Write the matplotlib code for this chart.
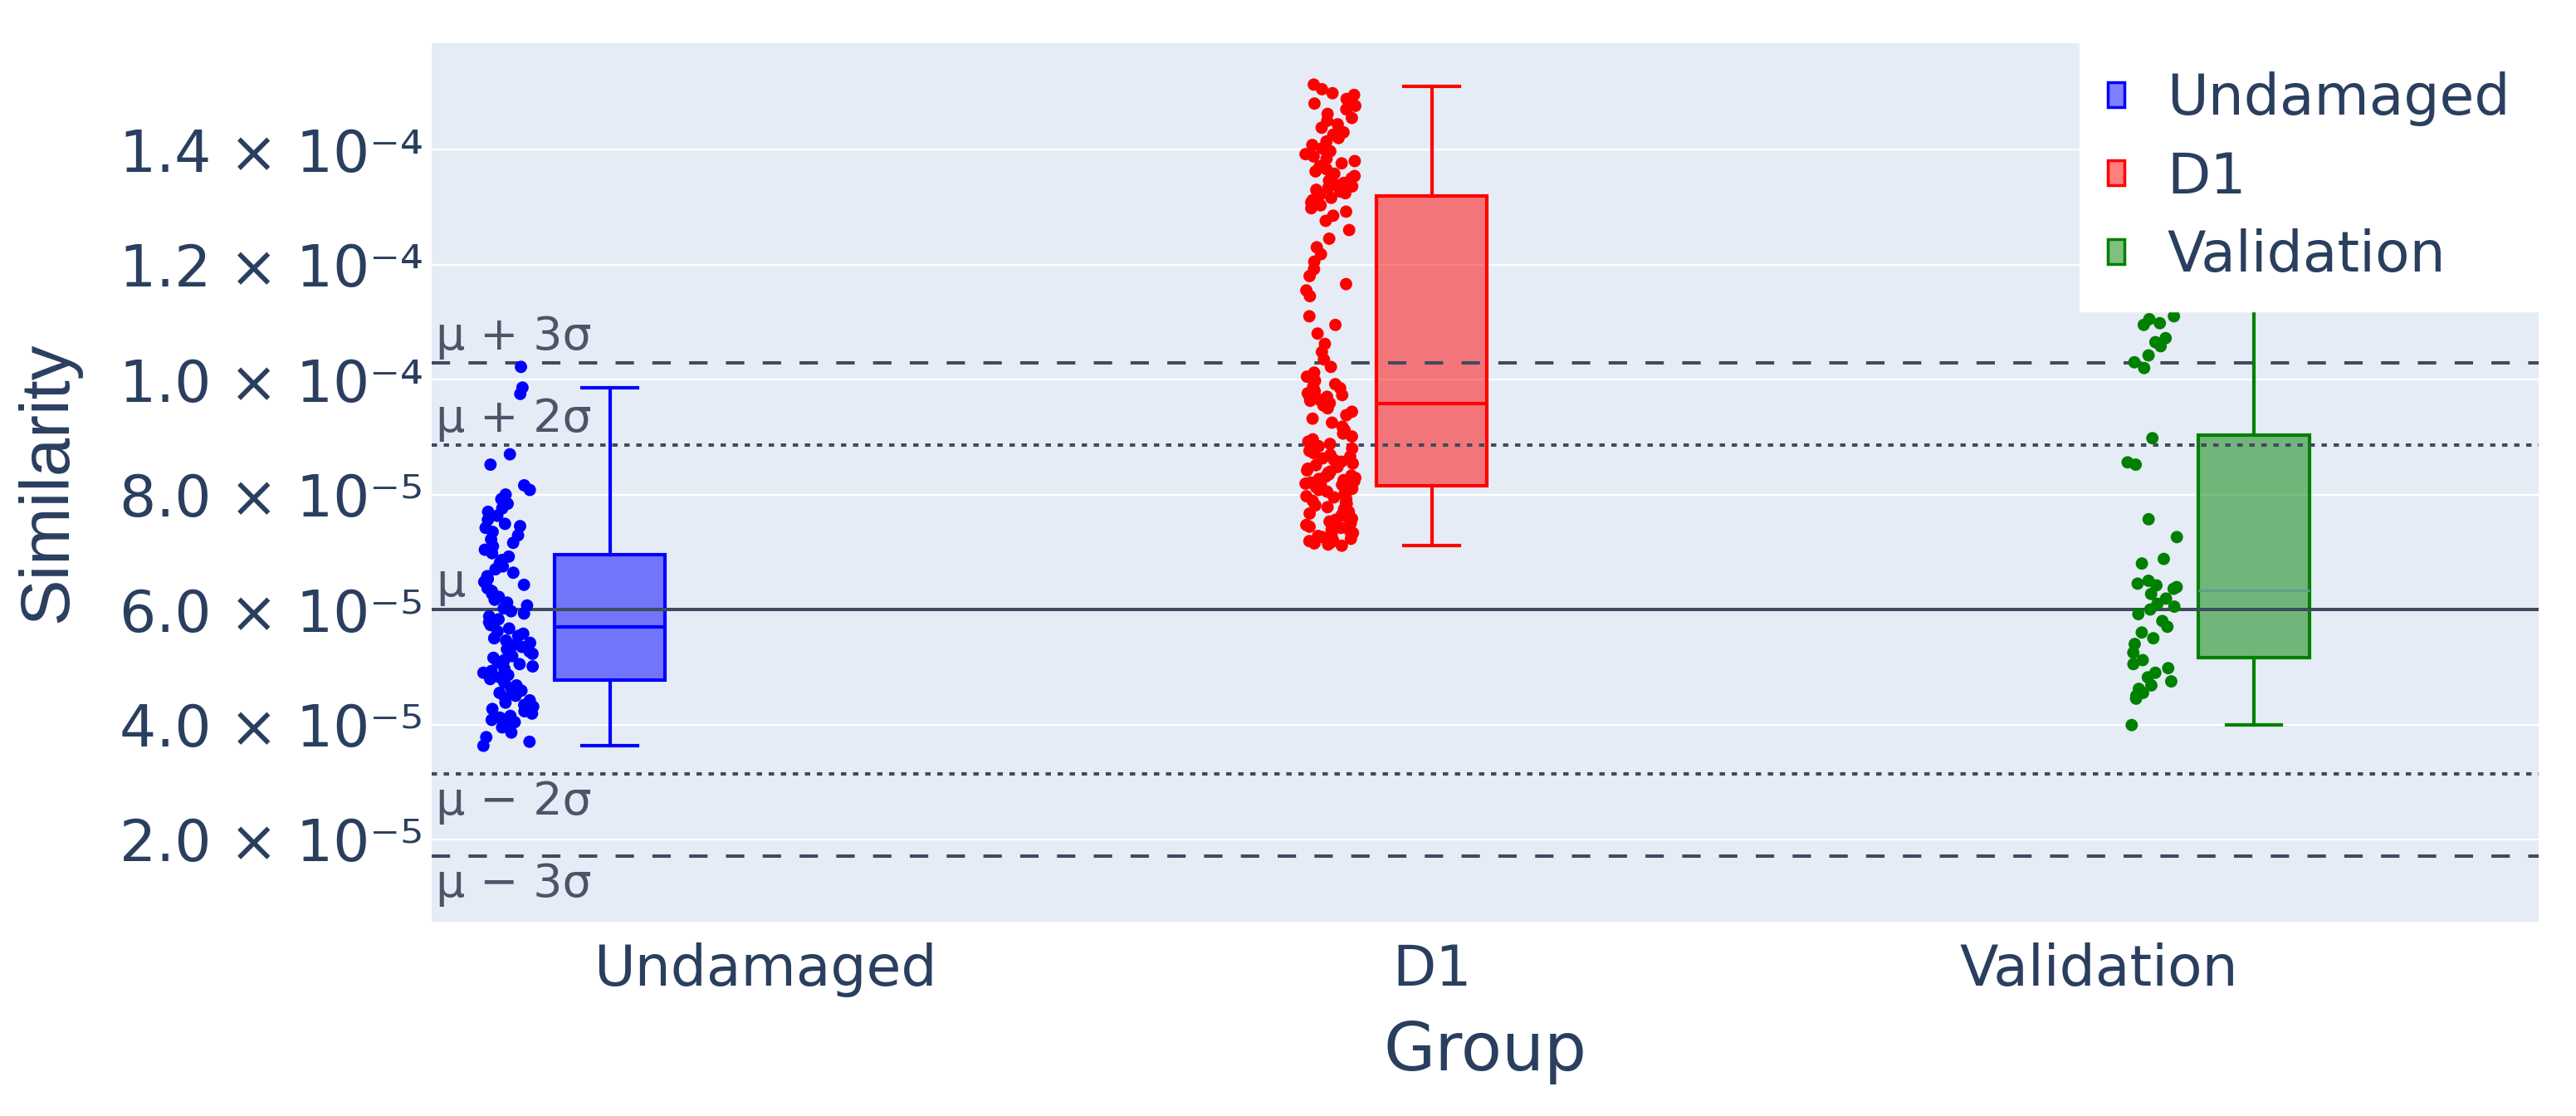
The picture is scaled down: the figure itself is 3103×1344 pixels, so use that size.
import numpy as np
import matplotlib.pyplot as plt
from matplotlib.patches import Patch

plt.rcParams['font.family'] = ['DejaVu Sans']

groups = ['Undamaged', 'D1', 'Validation']
colors = ['#0000ff', '#ff0000', '#008000']
box_offsets = [-0.233, 0.0, 0.233]

# similarity samples (units of 1e-5)
undamaged = [3.63, 3.70, 3.78, 3.86, 3.95, 3.99, 4.04, 4.08, 4.12, 4.15, 4.19, 4.23,
             4.27, 4.31, 4.34, 4.38, 4.42, 4.46, 4.50, 4.55, 4.59, 4.63, 4.68, 4.73,
             4.79, 4.82, 4.86, 4.90, 4.93, 4.97, 5.01, 5.05, 5.08, 5.12, 5.16, 5.19,
             5.23, 5.27, 5.31, 5.35, 5.38, 5.42, 5.46, 5.50, 5.54, 5.58, 5.62, 5.67,
             5.73, 5.78, 5.83, 5.88, 5.93, 5.97, 6.02, 6.07, 6.12, 6.17, 6.22, 6.27,
             6.32, 6.37, 6.43, 6.48, 6.53, 6.58, 6.64, 6.70, 6.75, 6.81, 6.86, 6.92,
             6.98, 7.04, 7.10, 7.16, 7.22, 7.29, 7.35, 7.42, 7.45, 7.49, 7.56, 7.63,
             7.70, 7.76, 7.84, 7.92, 8.00, 8.08, 8.16, 8.52, 8.70, 9.75, 9.86, 10.22]
d1 = [15.13, 15.05, 14.98, 14.95, 14.88, 14.80, 14.76, 14.70, 14.62, 14.55, 14.50, 14.44,
      14.38, 14.30, 14.26, 14.20, 14.14, 14.08, 14.02, 13.97, 13.92, 13.88, 13.84, 13.80,
      13.76, 13.71, 13.66, 13.62, 13.58, 13.54, 13.50, 13.46, 13.42, 13.39, 13.36, 13.33,
      13.30, 13.27, 13.24, 13.21,
      13.16, 13.12, 13.08, 13.03, 12.98, 12.92, 12.85, 12.76, 12.60, 12.45, 12.30, 12.18,
      12.05, 11.92, 11.80, 11.66, 11.55, 11.45, 11.10, 10.95, 10.80, 10.62, 10.48, 10.35,
      10.22, 10.12, 10.05, 9.98, 9.92, 9.88, 9.85, 9.80, 9.76, 9.73, 9.70, 9.68,
      9.65, 9.63, 9.61, 9.59,
      9.55, 9.50, 9.44, 9.38, 9.32, 9.25, 9.18, 9.12, 9.06, 9.01, 8.96, 8.92,
      8.88, 8.84, 8.80, 8.76, 8.72, 8.69, 8.66, 8.63, 8.60, 8.57, 8.54, 8.51,
      8.48, 8.45, 8.42, 8.40, 8.38, 8.35, 8.33, 8.31, 8.29, 8.27, 8.25, 8.23,
      8.21, 8.19, 8.17, 8.16,
      8.13, 8.10, 8.08, 8.05, 8.03, 8.00, 7.97, 7.95, 7.92, 7.89, 7.86, 7.84,
      7.81, 7.78, 7.75, 7.72, 7.70, 7.67, 7.64, 7.61, 7.58, 7.56, 7.53, 7.50,
      7.47, 7.44, 7.42, 7.39, 7.36, 7.33, 7.31, 7.28, 7.26, 7.23, 7.21, 7.19,
      7.17, 7.15, 7.13, 7.11]
validation = [12.60, 11.90, 11.10, 11.05, 10.98, 10.95, 10.72, 10.65, 10.58, 10.42, 10.30, 10.20,
              8.98, 8.56, 8.52, 7.57, 7.26, 6.88, 6.80, 6.50, 6.45, 6.42, 6.39, 6.36,
              6.27, 6.19, 6.10, 6.05, 6.00, 5.92, 5.80, 5.70, 5.60, 5.50, 5.40, 5.25,
              5.12, 5.05, 4.98, 4.90, 4.82, 4.75, 4.68, 4.62, 4.55, 4.50, 4.45, 3.99]
samples = [undamaged, d1, validation]

# box statistics (units of 1e-5)
q1 = [4.77, 8.15, 5.16]
med = [5.70, 9.58, 6.33]
q3 = [6.95, 13.19, 9.03]
whislo = [3.63, 7.11, 3.99]
whishi = [9.86, 15.10, 12.60]

# mean / sigma reference lines (units of 1e-5)
ref_values = [10.29, 8.86, 6.00, 3.14, 1.71]
ref_labels = ['μ + 3σ', 'μ + 2σ', 'μ', 'μ − 2σ', 'μ − 3σ']
ref_styles = [(0, (5.5, 5.5)), (0, (1.6, 2.0)), '-', (0, (1.6, 2.0)), (0, (5.5, 5.5))]
ref_above = [True, True, True, False, False]

yticks = [2e-5, 4e-5, 6e-5, 8e-5, 1.0e-4, 1.2e-4, 1.4e-4]
ytick_labels = ['2.0 × 10⁻⁵', '4.0 × 10⁻⁵', '6.0 × 10⁻⁵', '8.0 × 10⁻⁵',
                '1.0 × 10⁻⁴', '1.2 × 10⁻⁴', '1.4 × 10⁻⁴']

text_color = '#2a3f5f'
line_color = '#3f4b5e'

fig = plt.figure(figsize=(31.03, 13.44), dpi=100)
ax = fig.add_axes([0.1676, 0.1741, 0.8179, 0.7872])
ax.set_facecolor('#e5ecf6')
for s in ax.spines.values():
    s.set_visible(False)
ax.set_axisbelow(True)
ax.yaxis.grid(True, color='white', linewidth=1.6)

scale = 1e-5
for i, (name, c) in enumerate(zip(groups, colors)):
    pos = i + box_offsets[i]
    stats = [dict(med=med[i] * scale, q1=q1[i] * scale, q3=q3[i] * scale,
                  whislo=whislo[i] * scale, whishi=whishi[i] * scale, label=name)]
    med_col = '#5f9f8a' if name == 'Validation' else c
    ax.bxp(stats, positions=[pos], widths=0.166, capwidths=0.083, patch_artist=True,
           showfliers=False, manage_ticks=False,
           boxprops=dict(facecolor=(c, 0.5), edgecolor=c, linewidth=3),
           whiskerprops=dict(color=c, linewidth=3),
           capprops=dict(color=c, linewidth=3),
           medianprops=dict(color=med_col, linewidth=3 if name != 'Validation' else 2))
    vals = np.array(samples[i]) * scale
    n = len(vals)
    # deterministic scatter of x positions inside the point band
    k = np.arange(n) + 7 * i
    spread = (np.sin(k * 12.9898) * 43758.5453) % 1
    jitter = (spread - 0.5) * 0.075
    ax.scatter(pos - 0.152 + jitter, vals, s=115, color=c, edgecolors='none', zorder=3)

ytrans = ax.get_yaxis_transform()
for v, lab, ls, above in zip(ref_values, ref_labels, ref_styles, ref_above):
    ax.axhline(v * scale, color=line_color, linewidth=2.9, linestyle=ls, zorder=2)
    ax.annotate(lab, xy=(0.002, v * scale), xycoords=ytrans,
                xytext=(0, 3 if above else -5), textcoords='offset points',
                va='bottom' if above else 'top', ha='left',
                fontsize=40, color='#4a5568')

ax.set_xlim(-0.5, 2.66)
ax.set_ylim(0.57e-5, 15.85e-5)
ax.set_xticks(range(len(groups)))
ax.set_xticklabels(groups)
ax.set_yticks(yticks)
ax.set_yticklabels(ytick_labels)
ax.tick_params(axis='both', length=0, labelsize=49, labelcolor=text_color)
ax.tick_params(axis='x', pad=18)
ax.tick_params(axis='y', labelsize=50, pad=7)

ax.set_xlabel('Group', fontsize=58, color=text_color)
ax.xaxis.label.set_va('center')
ax.xaxis.set_label_coords(0.5, -0.148)
ax.set_ylabel('Similarity', fontsize=60, color=text_color, family='Liberation Sans')
ax.yaxis.label.set_va('center')
ax.yaxis.set_label_coords(-0.182, 0.5)

handles = [Patch(facecolor=(c, 0.5), edgecolor=c, linewidth=2.5) for c in colors]
leg = ax.legend(handles, groups, loc='upper right', bbox_to_anchor=(1.0, 1.0),
                borderaxespad=0, fontsize=49, frameon=True, fancybox=False,
                framealpha=1, edgecolor='white', handlelength=0.3, handleheight=0.3,
                handletextpad=0.75, labelspacing=0.42, borderpad=0.5)
leg.get_frame().set_facecolor('white')
for t in leg.get_texts():
    t.set_color(text_color)

fig.savefig('out.png', dpi=100, facecolor='white')
